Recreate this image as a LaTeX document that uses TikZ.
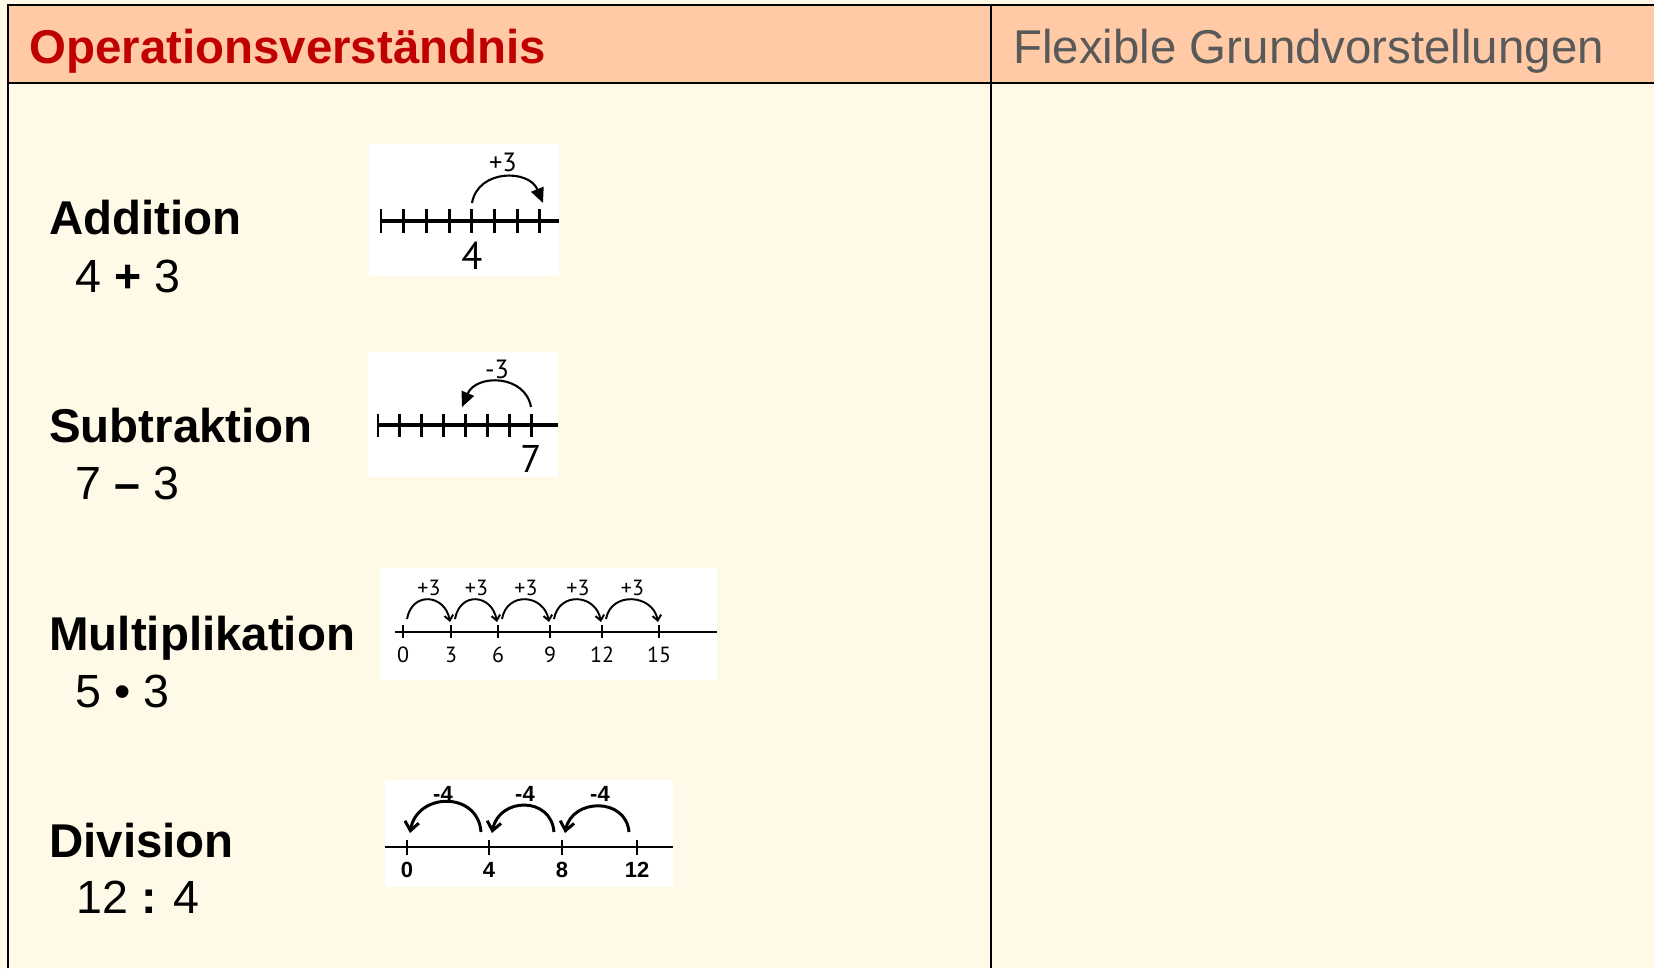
\documentclass[tikz,border=0pt]{standalone}
\usepackage{fontspec}
\setmainfont{Liberation Sans}
\newfontfamily\handfont{PT Sans}
\usepackage{tikz}
\usetikzlibrary{arrows.meta, positioning, calc}
\definecolor{headpeach}{HTML}{FFCAA5}
\definecolor{bodycream}{HTML}{FFFAE8}
\definecolor{headred}{HTML}{C00000}
\definecolor{headgray}{HTML}{595959}

\begin{document}
\begin{tikzpicture}[
    x=0.02cm, y=-0.02cm,
    every node/.style={inner sep=0pt},
    headtext/.style={
        anchor=base west,
        font=\fontsize{27}{32}\selectfont
    },
    optitle/.style={
        anchor=base west,
        font=\fontsize{27}{32}\selectfont\bfseries
    },
    opterm/.style={
        anchor=base west,
        font=\fontsize{26.5}{31}\selectfont
    },
    tableline/.style={line width=1.5pt, draw=black},
    picbox/.style={fill=white},
    boldline/.style={line width=2.2pt},
    boldtick/.style={line width=1.6pt},
    thinline/.style={line width=1.1pt},
    bigjump/.style={
        -{Triangle[length=8.5pt, width=7.5pt]},
        line width=1.2pt
    },
    smalljump/.style={
        -{Straight Barb[length=3pt, width=5pt]},
        line width=1.1pt
    },
    backjump/.style={
        -{Straight Barb[length=5pt, width=8pt]},
        line width=1.7pt
    },
    handlabel/.style={font=\handfont\fontsize{22}{25}\selectfont},
    jumplabel/.style={font=\handfont\fontsize{15}{17}\selectfont},
    smalllabel/.style={font=\handfont\fontsize{12.5}{14}\selectfont},
    divlabel/.style={font=\fontsize{12.5}{14}\selectfont\bfseries}
]
\useasboundingbox (0,0) rectangle (1654,968);

% Table
\fill[bodycream] (0,0) rectangle (1654,968);
\fill[headpeach] (8,5) rectangle (1654,83);
\draw[tableline] (8,968) -- (8,5) -- (1654,5);
\draw[tableline] (8,83) -- (1654,83);
\draw[tableline] (991,5) -- (991,968);

% Header
\node[optitle, text=headred] (ophead) at (29,63) {Operationsverständnis};
\node[headtext, text=headgray] (flexhead) at (1013,63) {Flexible Grundvorstellungen};

% Operations - left column
\node[optitle] (addtitle) at (49,234) {Addition};
\node[opterm] (addterm) at (75,292) {4 {\bfseries +} 3};
\node[optitle] (subtitle) at (49,442) {Subtraktion};
\node[opterm] (subterm) at (75,499) {7 {\bfseries –} 3};
\node[optitle] (multitle) at (49,650) {Multiplikation};
\node[opterm] (multerm) at (75,707) {5 • 3};
\node[optitle] (divtitle) at (49,857) {Division};
\node[opterm] (divterm) at (76,913) {12 {\bfseries :} 4};

% Addition number line
\fill[picbox] (369,144) rectangle (559,276);
\draw[boldline] (381,221) -- (559,221);
\foreach \i in {0,...,7}
    \draw[boldtick] ({381+22.7*\i},209) -- ++(0,24);
\coordinate (a4) at (472,203);
\coordinate (a7) at (543,203);
\draw[bigjump] (a4) .. controls +(6,-34) and +(-14,-34) .. (a7);
\node[handlabel] (addfour) at (472,256) {4};
\node[jumplabel] (addjump) at (503,162) {+3};

% Subtraction number line
\fill[picbox] (368,352) rectangle (558,477);
\draw[boldline] (378,425) -- (558,425);
\foreach \i in {0,...,7}
    \draw[boldtick] ({378+21.9*\i},414) -- ++(0,23);
\coordinate (s7) at (531,407);
\coordinate (s4) at (462,407);
\draw[bigjump] (s7) .. controls +(-6,-33) and +(14,-33) .. (s4);
\node[handlabel] (subseven) at (531,459) {7};
\node[jumplabel] (subjump) at (497,369) {-3};

% Multiplication number line
\fill[picbox] (380,568) rectangle (717,680);
\draw[thinline] (395,632) -- (717,632);
\foreach \x/\n in {403/0,451/3,498/6,550/9,602/12,659/15} {
    \coordinate (m\n) at (\x,632);
    \draw[thinline] (\x,625) -- (\x,638);
    \node[smalllabel] (ml\n) at (\x,655) {\n};
}
\foreach \a/\b in {0/3,3/6,6/9,9/12,12/15} {
    \draw[smalljump] ($(m\a)+(4,-13)$) .. controls +(5,-28) and +(-5,-28) .. ($(m\b)+(-1,-10)$);
    \node[smalllabel] (mj\a) at ($(m\a)!0.5!(m\b)+(2,-44)$) {+3};
}

% Division number line
\fill[picbox] (385,780) rectangle (673,887);
\draw[thinline] (385,847) -- (673,847);
\foreach \x/\n in {407/0,489/4,562/8,637/12} {
    \coordinate (d\n) at (\x,847);
    \draw[boldtick] (\x,840) -- (\x,855);
    \node[divlabel] (dl\n) at (\x,870) {\n};
}
\foreach \a/\b/\h/\l in {4/0/41/443,8/4/36/525,12/8/35/600} {
    \draw[backjump] ($(d\a)+(-8,-15)$) .. controls +(-3,-\h) and +(7,-\h) .. ($(d\b)+(3,-14)$);
    \node[divlabel] (dj\a) at (\l,794) {-4};
}

\end{tikzpicture}
\end{document}
